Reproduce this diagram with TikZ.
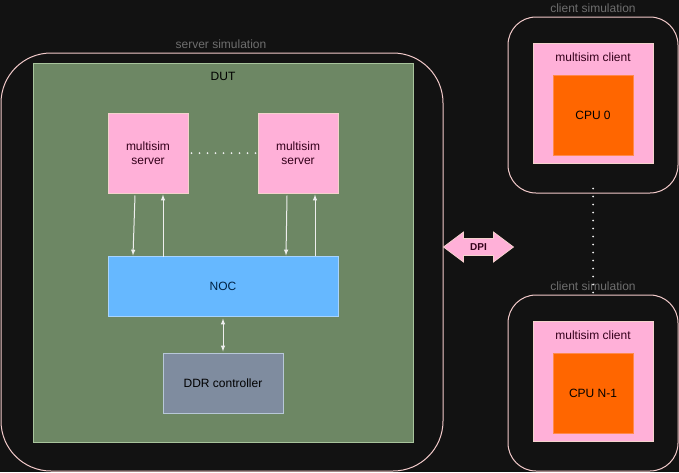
\documentclass[tikz,border=0pt]{standalone}
\usepackage{fontspec}
\setmainfont{Liberation Sans}
\definecolor{bgdark}{HTML}{121212}
\definecolor{framepink}{HTML}{F2CACA}
\definecolor{lblgray}{HTML}{6E6E6E}
\definecolor{dutfill}{HTML}{6D8764}
\definecolor{dutline}{HTML}{A8C49C}
\definecolor{pinkfill}{HTML}{FFB0D8}
\definecolor{pinkline}{HTML}{F4D2CC}
\definecolor{pinktext}{HTML}{33001A}
\definecolor{nocfill}{HTML}{66B8FF}
\definecolor{nocline}{HTML}{A8D4FF}
\definecolor{noctext}{HTML}{002244}
\definecolor{ddrfill}{HTML}{7F8C9F}
\definecolor{ddrline}{HTML}{B8C8D8}
\definecolor{cpufill}{HTML}{FF6600}
\definecolor{cpuline}{HTML}{FF8A4C}
\definecolor{wirecol}{HTML}{EEEEEE}
\tikzset{
  simframe/.style={draw=framepink, line width=1pt, rounded corners=#1, inner sep=0pt},
  simlabel/.style={text=lblgray, inner sep=0pt},
  pinkbox/.style={draw=pinkline, fill=pinkfill, text=pinktext, line width=1pt, inner sep=0pt, align=center},
  dotline/.style={draw=wirecol, line width=2pt, line cap=round, dash pattern=on 0pt off 8pt},
  wire/.style={draw=wirecol, line width=1pt}
}
\begin{document}
\begin{tikzpicture}[x=1pt, y=-1pt, >=latex, font=\fontsize{12}{14}\selectfont]
    \useasboundingbox (0,0) rectangle (679,472);
    \fill[bgdark] (0,0) rectangle (679,472);
    % server side
    \node[simframe=50pt, minimum width=442, minimum height=418] (srvsim) at (222,262) {};
    \node[simlabel] (srvlbl) at (221,44) {server simulation};
    \node[draw=dutline, fill=dutfill, line width=1pt, minimum width=380, minimum height=379] (dut) at (223,252.5) {};
    \node (dutlbl) at (223,76) {DUT};
    \node[pinkbox, minimum width=80, minimum height=80] (srvA) at (148,153) {multisim\\server};
    \node[pinkbox, minimum width=80, minimum height=80] (srvB) at (298,153) {multisim\\server};
    \node[draw=nocline, fill=nocfill, text=noctext, line width=1pt, minimum width=230, minimum height=60] (noc) at (223,286) {NOC};
    \node[draw=ddrline, fill=ddrfill, line width=1pt, minimum width=120, minimum height=60] (ddr) at (223,383) {DDR controller};
    \draw[dotline] ([xshift=3]srvA.east) -- ([xshift=-1]srvB.west);
    \draw[wire, ->] ([xshift=-13, yshift=-2]srvA.south) -- ([xshift=-90]noc.north);
    \draw[wire, ->] ([xshift=-60, yshift=-1]noc.north) -- ([xshift=15, yshift=-1]srvA.south);
    \draw[wire, ->] ([xshift=-11, yshift=-2]srvB.south) -- ([xshift=63]noc.north);
    \draw[wire, ->] ([xshift=92]noc.north) -- ([xshift=17, yshift=-1]srvB.south);
    \draw[wire, <->] ([yshift=-2]noc.south) -- ([yshift=1]ddr.north);
    % DPI link
    \coordinate (dpi) at (478.5,247);
    \draw[shift={(dpi)}, draw=pinkline, fill=pinkfill, line width=0.75pt, line join=miter]
        (-35,0) -- (-15,-15) -- (-15,-8.5) -- (15,-8.5) -- (15,-15) -- (35,0)
        -- (15,15) -- (15,8.5) -- (-15,8.5) -- (-15,15) -- cycle;
    \node[text=pinktext, inner sep=0pt, font=\fontsize{10}{12}\selectfont\bfseries] (dpilbl) at (dpi) {DPI};
    % client side
    \node[simframe=28pt, minimum width=170, minimum height=176] (cliA) at (593,105) {};
    \node[simlabel] (cliAlbl) at (593,8) {client simulation};
    \node[pinkbox, minimum width=120, minimum height=120] (mcA) at (593,103) {};
    \node[text=pinktext] (mcAlbl) at (593,57) {multisim client};
    \node[draw=cpuline, fill=cpufill, line width=1pt, minimum width=80, minimum height=80] (cpuA) at (593,115) {CPU 0};
    \node[simframe=28pt, minimum width=170, minimum height=176] (cliB) at (593,383) {};
    \node[simlabel] (cliBlbl) at (593,286) {client simulation};
    \node[pinkbox, minimum width=120, minimum height=120] (mcB) at (593,381) {};
    \node[text=pinktext] (mcBlbl) at (593,335) {multisim client};
    \node[draw=cpuline, fill=cpufill, line width=1pt, minimum width=80, minimum height=80] (cpuB) at (593,393) {CPU N-1};
    \draw[dotline] ([yshift=5]cliA.south) -- (cliB.north);
\end{tikzpicture}
\end{document}
